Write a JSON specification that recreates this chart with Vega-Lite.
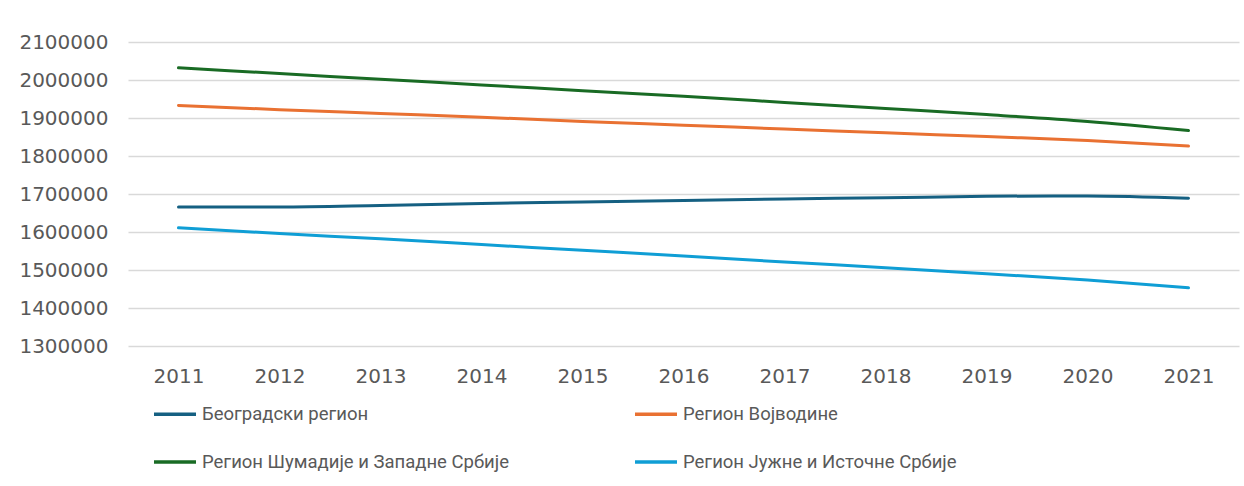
{
  "$schema": "https://vega.github.io/schema/vega-lite/v6.json",
  "autosize": {"type": "none"},
  "width": 1111,
  "height": 304,
  "padding": {"left": 128, "top": 42, "right": 5, "bottom": 140},
  "background": "white",
  "config": {
    "font": "Roboto",
    "view": {"stroke": null},
    "axis": {"labelColor": "#595959", "labelFont": "DejaVu Sans", "domain": false, "ticks": false, "title": null},
    "legend": {"labelColor": "#595959", "labelFont": "Roboto"}
  },
  "data": {
    "values": [
      {"year": "2011", "region": "Београдски регион", "value": 1666000},
      {"year": "2012", "region": "Београдски регион", "value": 1666000},
      {"year": "2013", "region": "Београдски регион", "value": 1670000},
      {"year": "2014", "region": "Београдски регион", "value": 1675000},
      {"year": "2015", "region": "Београдски регион", "value": 1679000},
      {"year": "2016", "region": "Београдски регион", "value": 1683000},
      {"year": "2017", "region": "Београдски регион", "value": 1687000},
      {"year": "2018", "region": "Београдски регион", "value": 1690000},
      {"year": "2019", "region": "Београдски регион", "value": 1694000},
      {"year": "2020", "region": "Београдски регион", "value": 1695000},
      {"year": "2021", "region": "Београдски регион", "value": 1689000},
      {"year": "2011", "region": "Регион Војводине", "value": 1933000},
      {"year": "2012", "region": "Регион Војводине", "value": 1922000},
      {"year": "2013", "region": "Регион Војводине", "value": 1912000},
      {"year": "2014", "region": "Регион Војводине", "value": 1902000},
      {"year": "2015", "region": "Регион Војводине", "value": 1891000},
      {"year": "2016", "region": "Регион Војводине", "value": 1881000},
      {"year": "2017", "region": "Регион Војводине", "value": 1871000},
      {"year": "2018", "region": "Регион Војводине", "value": 1861000},
      {"year": "2019", "region": "Регион Војводине", "value": 1851000},
      {"year": "2020", "region": "Регион Војводине", "value": 1841000},
      {"year": "2021", "region": "Регион Војводине", "value": 1826000},
      {"year": "2011", "region": "Регион Шумадије и Западне Србије", "value": 2032000},
      {"year": "2012", "region": "Регион Шумадије и Западне Србије", "value": 2017000},
      {"year": "2013", "region": "Регион Шумадије и Западне Србије", "value": 2002000},
      {"year": "2014", "region": "Регион Шумадије и Западне Србије", "value": 1987000},
      {"year": "2015", "region": "Регион Шумадије и Западне Србије", "value": 1972000},
      {"year": "2016", "region": "Регион Шумадије и Западне Србије", "value": 1957000},
      {"year": "2017", "region": "Регион Шумадије и Западне Србије", "value": 1941000},
      {"year": "2018", "region": "Регион Шумадије и Западне Србије", "value": 1925000},
      {"year": "2019", "region": "Регион Шумадије и Западне Србије", "value": 1909000},
      {"year": "2020", "region": "Регион Шумадије и Западне Србије", "value": 1891000},
      {"year": "2021", "region": "Регион Шумадије и Западне Србије", "value": 1867000},
      {"year": "2011", "region": "Регион Јужне и Источне Србије", "value": 1611000},
      {"year": "2012", "region": "Регион Јужне и Источне Србије", "value": 1596000},
      {"year": "2013", "region": "Регион Јужне и Источне Србије", "value": 1582000},
      {"year": "2014", "region": "Регион Јужне и Источне Србије", "value": 1567000},
      {"year": "2015", "region": "Регион Јужне и Источне Србије", "value": 1552000},
      {"year": "2016", "region": "Регион Јужне и Источне Србије", "value": 1537000},
      {"year": "2017", "region": "Регион Јужне и Источне Србије", "value": 1521000},
      {"year": "2018", "region": "Регион Јужне и Источне Србије", "value": 1506000},
      {"year": "2019", "region": "Регион Јужне и Источне Србије", "value": 1490000},
      {"year": "2020", "region": "Регион Јужне и Источне Србије", "value": 1474000},
      {"year": "2021", "region": "Регион Јужне и Источне Србије", "value": 1453000}
    ]
  },
  "mark": {"type": "line", "interpolate": "monotone", "strokeWidth": 3, "strokeCap": "round"},
  "encoding": {
    "x": {
      "field": "year", "type": "ordinal",
      "scale": {"type": "point", "padding": 0.5},
      "axis": {"labelAngle": 0, "labelFontSize": 20, "labelPadding": 20, "grid": false}
    },
    "y": {
      "field": "value", "type": "quantitative",
      "scale": {"domain": [1300000, 2100000], "nice": false, "zero": false},
      "axis": {"values": [1300000, 1400000, 1500000, 1600000, 1700000, 1800000, 1900000, 2000000, 2100000], "format": "d", "labelFontSize": 20, "labelPadding": 20, "gridColor": "#d9d9d9", "gridWidth": 1.5}
    },
    "color": {
      "field": "region", "type": "nominal",
      "scale": {
        "domain": ["Београдски регион", "Регион Војводине", "Регион Шумадије и Западне Србије", "Регион Јужне и Источне Србије"],
        "range": ["#156082", "#E97132", "#196B24", "#0F9ED5"]
      },
      "legend": {
        "title": null, "orient": "none", "legendX": 24, "legendY": 349, "direction": "horizontal",
        "columns": 2, "symbolType": "stroke", "symbolSize": 1764, "symbolStrokeWidth": 3.5,
        "labelFontSize": 18.5, "labelLimit": 500, "rowPadding": 15, "columnPadding": 119, "labelOffset": 4
      }
    }
  }
}
